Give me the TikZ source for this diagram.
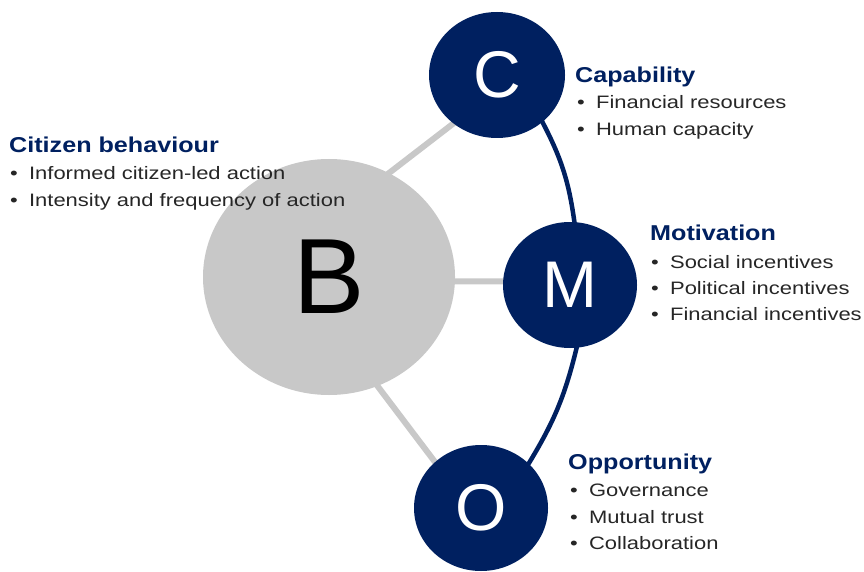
\documentclass[tikz,border=0pt]{standalone}
\usepackage{fontspec}
\usepackage{graphicx}
\setmainfont{Liberation Sans}
\usetikzlibrary{shapes.geometric,backgrounds}

\definecolor{cbnavy}{RGB}{0,32,96}
\definecolor{cbgray}{RGB}{200,200,200}

\tikzset{
  dot/.style={ellipse, inner sep=0pt, minimum width=134pt, minimum height=126pt,
    fill=cbnavy, text=white, font=\fontsize{66}{66}\selectfont},
  spoke/.style={cbgray, line width=6pt, shorten <=-3pt, shorten >=-3pt},
  rim/.style={cbnavy, line width=4.5pt, shorten <=-3pt, shorten >=-3pt},
  head/.style={anchor=base west, inner sep=0pt, text=cbnavy,
    font=\fontsize{21.5}{21.5}\selectfont\bfseries},
  item/.style={anchor=base west, inner sep=0pt, text=black!85,
    font=\fontsize{18}{18}\selectfont},
}
\newcommand{\hd}[1]{\scalebox{1.17}[1]{#1}}
\newcommand{\bul}[1]{\scalebox{1.22}[1]{\makebox[15.5pt][l]{\textbullet}#1}}

\begin{document}
\begin{tikzpicture}[x=1pt,y=-1pt]
\useasboundingbox (0,0) rectangle (864,572);

% the four circles
\node[dot, minimum width=252pt, minimum height=236pt, fill=cbgray, text=black,
  font=\fontsize{107}{107}\selectfont] (B) at (329,277) {B};
\node[dot, minimum width=136pt] (C) at (497,75) {C};
\node[dot] (M) at (570,285) {M};
\node[dot] (O) at (481,508) {O};

\begin{scope}[on background layer]
  \draw[spoke] (B.60) -- (C.228);
  \draw[spoke] (B.-2) -- (M.177);
  \draw[spoke] (B.294) -- (O.135);
  \draw[rim] (C.-46) to[bend left=10] (M.86);
  \draw[rim] (M.-84) to[bend left=9] (O.43);
\end{scope}

% labels
\node[head] (citH) at (9,153) {\hd{Citizen behaviour}};
\foreach \t [count=\i] in {Informed citizen-led action, Intensity and frequency of action}
  \node[item] (cit\i) at (10,152+27*\i) {\bul{\t}};

\node[head] (capH) at (575,83) {\hd{Capability}};
\foreach \t [count=\i] in {Financial resources, Human capacity}
  \node[item] (cap\i) at (577,82+27*\i) {\bul{\t}};

\node[head] (motH) at (650,240) {\hd{Motivation}};
\foreach \t [count=\i] in {Social incentives, Political incentives, Financial incentives}
  \node[item] (mot\i) at (651,242+26*\i) {\bul{\t}};

\node[head] (oppH) at (568,469) {\hd{Opportunity}};
\foreach \t [count=\i] in {Governance, Mutual trust, Collaboration}
  \node[item] (opp\i) at (570,470+26.5*\i) {\bul{\t}};
\end{tikzpicture}
\end{document}
